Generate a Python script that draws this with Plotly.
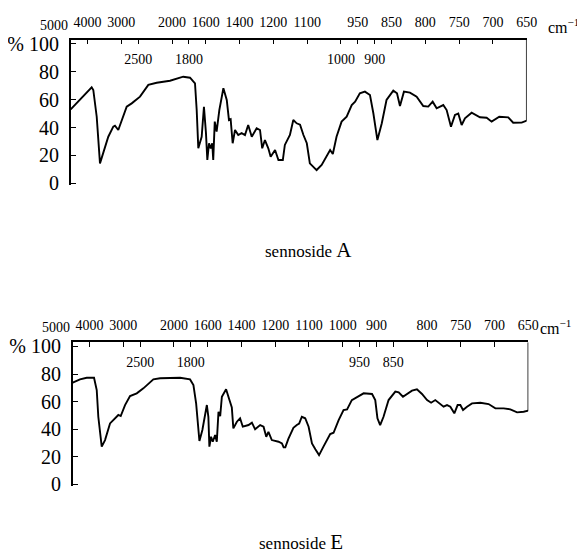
import numpy as np
import plotly.graph_objects as go

# Chart scale of the spectrometer paper (wavenumber -> chart unit)
SCALE_WN = [5000, 4000, 3000, 2500, 2000, 1800, 1600, 1400, 1200, 1100, 1000, 950, 900, 850, 800, 750, 700, 650]
SCALE_U = [0, 2, 4, 5, 7, 8, 9, 11, 13, 15, 17, 18, 19, 20, 22, 24, 26, 28]

# sennoside A : wavenumber (cm-1) and transmittance (%)
A_WN = [4500, 4225, 4077, 3879, 3831, 3730, 3633, 3535, 3387, 3239, 3189, 3091, 2990, 2842, 2694,
        2474, 2351, 2227, 2030, 1867, 1787, 1728, 1708, 1689, 1649, 1622, 1599, 1591, 1581, 1571,
        1562, 1556, 1547, 1536, 1520, 1496, 1476, 1463, 1453, 1441, 1427, 1408, 1388, 1368, 1349,
        1328, 1299, 1279, 1266, 1250, 1230, 1216, 1195, 1185, 1172, 1166, 1151, 1141, 1131, 1121,
        1111, 1101, 1092, 1072, 1057, 1042, 1032, 1024, 1013, 998, 983, 968, 958, 944, 929,
        914, 904, 892, 879, 865, 847.5, 842, 837.6, 831.7, 822.8, 812.9, 803.1, 795.7, 789.2, 783.3,
        773.5, 768.5, 762.1, 756.2, 751.3, 746.3, 741.4, 731.5, 719.2, 709.3, 701.9, 690.6, 677.3, 670,
        657.5, 650]
A_T = [53, 59.7, 63.3, 68.8, 66.9, 47.7, 14.3, 21.5, 33.4, 40.6, 41.3, 38.2, 45.4, 54.9, 57.3,
       62.1, 70.5, 72.1, 73.5, 76.4, 75.7, 71.7, 52.5, 25.1, 33.4, 54.9, 35.8, 16.7, 28.7, 25,
       28.7, 16.7, 44.2, 37, 52.5, 68.1, 59.7, 45.4, 46, 28.7, 38.2, 34.6, 36, 34.6, 41.8,
       33.4, 39.4, 38.2, 25.1, 31, 25.1, 19.1, 23.9, 16.7, 16.7, 27.5, 34.6, 45.4, 43, 42,
       34.6, 28.7, 14.3, 9.5, 13.1, 20.3, 23.9, 21, 33.4, 44.2, 47.7, 56.1, 58.5, 64.5, 65.7,
       63.3, 50.2, 31, 43, 59.7, 66.4, 64.5, 55.4, 65.7, 65, 62.1, 55.4, 55, 58.5, 53.8,
       56.1, 52.5, 40.6, 49, 50, 41.8, 46.6, 50.6, 47.3, 47, 44.2, 47.7, 47.3, 43.4,
       43.5, 44.9]

# sennoside E : wavenumber (cm-1) and transmittance (%)
B_WN = [4500, 4284, 4085, 3868, 3788, 3741, 3640, 3542, 3394, 3246, 3148, 3077, 2949, 2801, 2602,
        2453, 2379, 2305, 2205, 2008, 1927, 1809, 1769, 1737, 1698, 1663, 1610, 1596, 1590, 1580,
        1570, 1556, 1546, 1536, 1526, 1516, 1491, 1471, 1457, 1448, 1427, 1408, 1392, 1358, 1338,
        1319, 1289, 1269, 1253, 1240, 1220, 1190, 1180, 1175, 1170, 1161, 1146, 1136, 1129, 1121,
        1111, 1101, 1091, 1081, 1070, 1057, 1037, 1027, 1012, 997.5, 987, 973, 963, 953, 938,
        913, 903.5, 897, 889, 879, 864, 847, 842, 835.7, 829.8, 822.3, 815, 807.5, 800, 794,
        787.8, 781.4, 775.5, 770.4, 765.5, 759.6, 754.7, 750.7, 746.7, 740.8, 733.4, 721, 708.8, 698.8,
        686.5, 676.6, 666.6, 656.9, 650]
B_T = [73.7, 76.1, 77.3, 77.3, 68.4, 49, 27.3, 32.1, 44.2, 47.9, 50.3, 49.5, 57.5, 64, 66,
       69.6, 72.5, 76.1, 76.9, 76.9, 77.3, 76.1, 72, 58.7, 31.4, 39.4, 57.5, 49, 27.3, 34.5,
       30.9, 35.8, 30.9, 52.6, 49.5, 63.5, 68.9, 61.1, 55.8, 40.6, 45.4, 47.9, 41.8, 43, 44.7,
       39.9, 43, 41.8, 34.5, 38.1, 32.1, 30.9, 29.7, 26.8, 26.8, 33, 41, 43, 44, 49,
       47.9, 41.8, 29.7, 25.4, 21.2, 27.3, 36.5, 37.4, 46.6, 53.9, 54.4, 61.1, 62.4, 63.5, 66,
       65.5, 61.1, 47.9, 43, 49, 61.1, 67.2, 66.7, 63.5, 65.3, 67.9, 68.9, 65.5, 61.1, 59.2,
       61.1, 58.7, 56.3, 57.5, 56.3, 51.5, 57.5, 57.5, 53.9, 56.3, 58.7, 59.2, 58.2, 55.1,
       55.1, 54.4, 52.2, 52.6, 53.4]

TICK_WN = [4000, 3000, 2500, 2000, 1800, 1600, 1400, 1200, 1100, 1000, 950, 900, 850, 800, 750, 700, 650]
A_UPPER = [4000, 3000, 2000, 1600, 1400, 1200, 1100, 950, 850, 800, 750, 700, 650]
A_LOWER = [2500, 1800, 1000, 900]
B_UPPER = [4000, 3000, 2000, 1600, 1400, 1200, 1100, 1000, 900, 800, 750, 700, 650]
B_LOWER = [2500, 1800, 950, 850]
OUTER_LABEL = 5000
Y_TICKS = [0, 20, 40, 60, 80, 100]
Y_LABELS = ["0", "20", "40", "60", "80", "% 100"]
Y_TOP = 103
TITLES = ["sennoside", "sennoside"]
TITLE_LETTERS = ["A", "E"]
UNIT = "cm<sup>\u22121</sup>"

SERIF = "Liberation Serif"

# the page body keeps the browser's default 8px margin: size the figure to the visible area
W, H, OFF = 577, 548, 8


def px_x(v):
    return (v - OFF) / W


def px_y(v):
    return 1 - (v - OFF) / H


def pos(wn):
    return np.interp(np.asarray(wn, dtype=float), SCALE_WN[::-1], SCALE_U[::-1])


fig = go.Figure()

panels = [
    dict(wn=A_WN, t=A_T, upper=A_UPPER, lower=A_LOWER, x="x", x2="x2", y="y",
         xdom=[px_x(70.7), px_x(526.7)], ydom=[px_y(184.7), px_y(39.6)],
         title=(308.5, 250), unit=(546, 26)),
    dict(wn=B_WN, t=B_T, upper=B_UPPER, lower=B_LOWER, x="x3", x2="x4", y="y2",
         xdom=[px_x(72.7), px_x(528.3)], ydom=[px_y(485.7), px_y(342.3)],
         title=(301, 542), unit=(538, 327)),
]

annotations = []
for i, p in enumerate(panels):
    xs = pos(p["wn"])
    fig.add_trace(go.Scatter(x=xs, y=p["t"], mode="lines", xaxis=p["x"], yaxis=p["y"],
                             line=dict(color="black", width=1.9), showlegend=False, hoverinfo="skip"))
    # right border of the chart paper, down to where the trace ends
    fig.add_trace(go.Scatter(x=[xs[-1], xs[-1]], y=[p["t"][-1], Y_TOP], mode="lines",
                             xaxis=p["x"], yaxis=p["y"], line=dict(color="black", width=1.5),
                             showlegend=False, hoverinfo="skip"))
    # helper (invisible) trace for the inner label axis
    fig.add_trace(go.Scatter(x=[xs[0], xs[-1]], y=[0, 0], mode="lines", xaxis=p["x2"], yaxis=p["y"],
                             line=dict(color="rgba(0,0,0,0)", width=0), showlegend=False, hoverinfo="skip"))

    xr = [float(xs[0]), float(xs[-1])]
    ax_main = dict(domain=p["xdom"], range=xr, side="top", anchor=p["y"], showgrid=False, zeroline=False,
                   automargin=False, showline=True, linecolor="black", linewidth=1.5,
                   tickmode="array", tickvals=pos(TICK_WN).tolist(),
                   ticktext=[str(w) if w in p["upper"] else "" for w in TICK_WN],
                   ticks="inside", ticklen=5, tickwidth=1.2, tickcolor="black",
                   ticklabelstandoff=5, ticklabeloverflow="allow",
                   tickfont=dict(family=SERIF, size=14, color="black"))
    ax_inner = dict(overlaying=p["x"], range=xr, side="top", anchor=p["y"], showgrid=False, zeroline=False,
                    automargin=False, showline=False, tickmode="array", tickvals=pos(p["lower"]).tolist(),
                    ticktext=[str(w) for w in p["lower"]], ticks="", ticklabelposition="inside",
                    ticklabelstandoff=12, ticklabeloverflow="allow",
                    tickfont=dict(family=SERIF, size=14, color="black"))
    ay = dict(domain=p["ydom"], range=[-1, Y_TOP], anchor=p["x"], showgrid=False, zeroline=False,
              automargin=False, showline=True, linecolor="black", linewidth=1.5,
              tickmode="array", tickvals=Y_TICKS, ticktext=Y_LABELS,
              ticks="inside", ticklen=6, tickwidth=1.2, tickcolor="black",
              ticklabelstandoff=6, ticklabeloverflow="allow",
              tickfont=dict(family=SERIF, size=20, color="black"))
    xname = "xaxis" if p["x"] == "x" else "xaxis" + p["x"][1:]
    x2name = "xaxis" + p["x2"][1:]
    yname = "yaxis" if p["y"] == "y" else "yaxis" + p["y"][1:]
    fig.update_layout(**{xname: ax_main, x2name: ax_inner, yname: ay})

    # the 5000 label lies left of the chart frame: place it in paper units along the same scale
    frac = (float(pos(OUTER_LABEL)) - xr[0]) / (xr[1] - xr[0])
    x_paper = p["xdom"][0] + frac * (p["xdom"][1] - p["xdom"][0])
    annotations.append(dict(x=x_paper, y=p["ydom"][1], xref="paper", yref="paper",
                            text=str(OUTER_LABEL), showarrow=False, xanchor="center", yanchor="bottom",
                            yshift=5, font=dict(family=SERIF, size=14, color="black")))
    annotations.append(dict(x=px_x(p["unit"][0]), y=px_y(p["unit"][1]), xref="paper", yref="paper",
                            text=UNIT, showarrow=False, xanchor="left", yanchor="middle",
                            font=dict(family=SERIF, size=16, color="black")))
    annotations.append(dict(x=px_x(p["title"][0]), y=px_y(p["title"][1]), xref="paper", yref="paper",
                            text=TITLES[i] + " <span style='font-size:21px'>" + TITLE_LETTERS[i] + "</span>",
                            showarrow=False, xanchor="center", yanchor="middle",
                            font=dict(family=SERIF, size=17, color="black")))

fig.update_layout(width=W, height=H, margin=dict(l=0, r=0, t=0, b=0, autoexpand=False),
                  paper_bgcolor="white", plot_bgcolor="white", annotations=annotations)

fig.write_html("out.html")
